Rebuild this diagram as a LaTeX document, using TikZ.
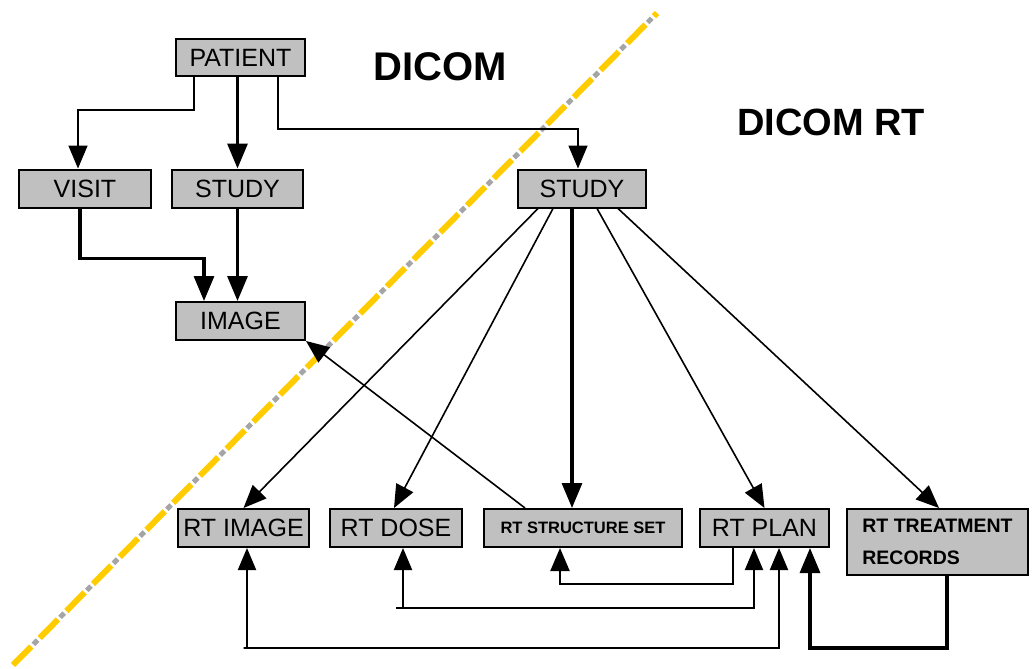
\documentclass[tikz,border=0pt]{standalone}
\usepackage{fontspec}
\setmainfont{Liberation Sans}
\usepackage{tikz}
\usetikzlibrary{calc, positioning, arrows.meta, backgrounds}
\definecolor{boxgray}{RGB}{192,192,192}
\definecolor{lineyellow}{RGB}{255,204,0}
\definecolor{linegray}{RGB}{165,165,165}
\tikzstyle{box}=[inner sep=0pt, draw, line width=2pt, fill=boxgray, shape=rectangle, minimum height=38pt, font=\fontsize{25}{27}\selectfont]
\tikzstyle{thinarr}=[line width=1.6pt, -{Triangle[width=19pt,length=23pt]}]
\tikzstyle{thickarr}=[line width=3.2pt, -{Triangle[width=20pt,length=25pt]}]
\tikzstyle{twoway}=[line width=2pt, {Triangle[width=18pt,length=22pt]}-{Triangle[width=18pt,length=22pt]}]
\tikzset{>=stealth}

\begin{document}
\begin{tikzpicture}[x=1pt, y=-1pt]
\useasboundingbox (0,0) rectangle (1034,669);
% the dividing line
\coordinate (D0) at (13,665);
\coordinate (D1) at (657,13);
\draw[lineyellow, line width=6pt, dash pattern=on 26pt off 12pt] (D0) -- (D1);
\draw[linegray, line width=5pt, dash pattern=on 6pt off 32pt, dash phase=9pt] (D0) -- (D1);
% the titles
\node[font=\fontsize{40}{42}\selectfont\bfseries] (dicom) at (440,67) {DICOM};
\node[font=\fontsize{38}{40}\selectfont\bfseries] (dicomrt) at (831,122) {DICOM RT};
% the DICOM boxes
\node[box, minimum width=129pt, minimum height=37pt] (patient) at (240.5,57.5) {PATIENT};
\node[box, minimum width=132pt] (visit) at (85,188.5) {VISIT};
\node[box, minimum width=131pt] (studyL) at (237.5,188.5) {STUDY};
\node[box, minimum width=129pt] (image) at (240.5,321) {IMAGE};
% the DICOM RT boxes
\node[box, minimum width=128pt] (studyR) at (582,188.5) {STUDY};
\node[box, minimum width=131pt] (rtimage) at (243.5,528) {RT IMAGE};
\node[box, minimum width=132pt] (rtdose) at (396,528) {RT DOSE};
\node[box, minimum width=198pt, font=\fontsize{16.5}{18}\selectfont\bfseries] (rtss) at (583,528) {RT STRUCTURE SET};
\node[box, minimum width=129pt] (rtplan) at (764.5,528) {RT PLAN};
\node[box, minimum width=181pt, minimum height=66pt, align=left, font=\fontsize{19.5}{32}\selectfont\bfseries] (rttr) at (937.5,542) {RT TREATMENT\\RECORDS};
% the edges from the patient
\draw[thinarr] ([xshift=-46.5pt]patient.south) -- ++(0,33) -| ([xshift=-7pt]visit.north);
\draw[thickarr] (studyL.north |- patient.south) -- (studyL.north);
\draw[thinarr] ([xshift=37.5pt]patient.south) -- ++(0,52) -| ([xshift=-4pt]studyR.north);
\draw[thickarr] ([xshift=-5pt]visit.south) -- ++(0,50) -| ([xshift=-36.5pt]image.north);
\draw[thickarr] (studyL.south) -- (studyL.south |- image.north);
% the edges from the RT study
\draw[thinarr] ([xshift=-44pt]studyR.south) -- (rtimage.north);
\draw[thinarr] ([xshift=-29pt]studyR.south) -- ([xshift=-2pt]rtdose.north);
\draw[thickarr] ([xshift=-10pt]studyR.south) -- ([xshift=-11pt]rtss.north);
\draw[thinarr] ([xshift=15pt]studyR.south) -- (rtplan.north);
\draw[thinarr] ([xshift=36pt]studyR.south) -- ([xshift=1.5pt]rttr.north);
\draw[thinarr] ([xshift=-58pt]rtss.north) -- (image.south east);
% the edges below
\draw[thinarr, line width=2pt] ([xshift=-31.5pt]rtplan.south) -- ++(0,36) -| ([xshift=-23pt]rtss.south);
\draw[twoway] ([xshift=7pt]rtdose.south) |- ($(rtdose.south)+(0,60)$) -| ([xshift=-10.5pt]rtplan.south);
\draw[twoway] ([xshift=3.5pt]rtimage.south) |- ($(rtimage.south)+(0,100)$) -| ([xshift=14.5pt]rtplan.south);
\draw[thickarr] ([xshift=9.5pt]rttr.south) -- ++(0,72) -| ([xshift=45.5pt]rtplan.south);
\end{tikzpicture}
\end{document}
